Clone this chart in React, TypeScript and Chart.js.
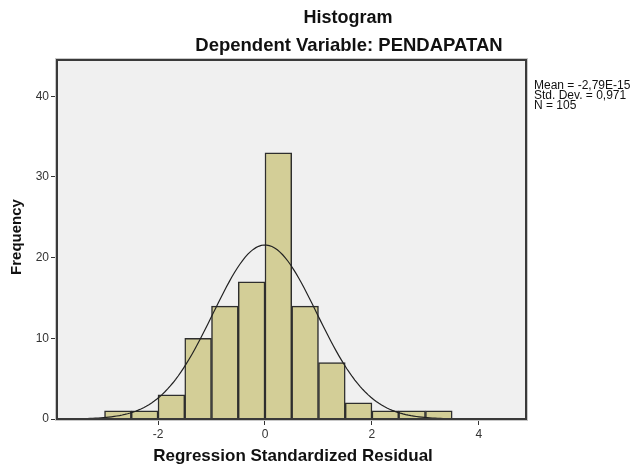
import React, { useEffect, useRef } from "react";
import { Chart, registerables } from "chart.js";

Chart.register(...registerables);

// Histogram data (bin centres, counts)
const BIN_CENTERS = [-2.75, -2.25, -1.75, -1.25, -0.75, -0.25, 0.25, 0.75, 1.25, 1.75, 2.25, 2.75, 3.25];
const COUNTS = [1, 1, 3, 10, 14, 17, 33, 14, 7, 2, 1, 1, 1];
const BIN_WIDTH = 0.5;

// Summary statistics shown in the legend
const MEAN = -2.79e-15;
const STD_DEV = 0.971;
const N = 105;
const STATS_LINES = ["Mean = -2,79E-15", "Std. Dev. = 0,971", "N = 105"];

const X_TICKS = [-2, 0, 2, 4];
const Y_TICKS = [0, 10, 20, 30, 40];
const X_MIN = -3.87;
const X_MAX = 4.88;
const Y_MAX = 44.5;

const TITLE = "Histogram";
const SUBTITLE = "Dependent Variable: PENDAPATAN";
const X_TITLE = "Regression Standardized Residual";
const Y_TITLE = "Frequency";

// Fitted normal curve scaled to the histogram (from the legend statistics)
const CURVE_STEP = 0.05;
const curvePoints: { x: number; y: number }[] = [];
for (let x = X_MIN; x <= X_MAX + 1e-9; x += CURVE_STEP) {
  const z = (x - MEAN) / STD_DEV;
  const y = (N * BIN_WIDTH) / (STD_DEV * Math.sqrt(2 * Math.PI)) * Math.exp(-0.5 * z * z);
  curvePoints.push({ x, y });
}

const FONT = "Arial, 'Liberation Sans', sans-serif";

const decorPlugin = {
  id: "decor",
  beforeDraw(chart: any) {
    const { ctx, chartArea: a } = chart;
    ctx.save();
    ctx.fillStyle = "#f0f0f0";
    ctx.fillRect(a.left, a.top, a.right - a.left, a.bottom - a.top);
    ctx.restore();
  },
  afterDraw(chart: any) {
    const { ctx, chartArea: a } = chart;
    ctx.save();
    // frame
    ctx.strokeStyle = "#c8c8c8";
    ctx.lineWidth = 1;
    ctx.strokeRect(a.left - 2.5, a.top - 1.5, a.right - a.left + 4, a.bottom - a.top + 3);
    ctx.strokeStyle = "#3a3a3a";
    ctx.lineWidth = 2;
    ctx.strokeRect(a.left - 1, a.top, a.right - a.left + 1, a.bottom - a.top);

    ctx.fillStyle = "#111";
    ctx.textBaseline = "middle";
    ctx.textAlign = "center";
    ctx.font = `bold 18px ${FONT}`;
    ctx.fillText(TITLE, 348, 18.5);
    ctx.font = `bold 18.5px ${FONT}`;
    ctx.fillText(SUBTITLE, 349, 46);

    ctx.font = `bold 17px ${FONT}`;
    ctx.fillText(X_TITLE, 293, 456);

    ctx.save();
    ctx.translate(17, 237);
    ctx.rotate(-Math.PI / 2);
    ctx.font = `bold 15px ${FONT}`;
    ctx.fillText(Y_TITLE, 0, 0);
    ctx.restore();

    ctx.textAlign = "left";
    ctx.font = `12px ${FONT}`;
    STATS_LINES.forEach((s, i) => ctx.fillText(s, 534, 86 + i * 10));
    ctx.restore();
  },
};

export default function App() {
  const ref = useRef<HTMLCanvasElement | null>(null);
  useEffect(() => {
    document.body.style.margin = "0";
    const chart = new Chart(ref.current as HTMLCanvasElement, {
      data: {
        datasets: [
          {
            type: "line",
            data: curvePoints,
            borderColor: "#222",
            borderWidth: 1.2,
            pointRadius: 0,
            fill: false,
            tension: 0,
            order: 0,
          } as any,
          {
            type: "bar",
            data: BIN_CENTERS.map((c, i) => ({ x: c, y: COUNTS[i] })),
            backgroundColor: "#d3ce97",
            borderColor: "#2e2e2e",
            borderWidth: 1.5,
            barPercentage: 1,
            categoryPercentage: 1,
            order: 1,
          } as any,
        ],
      },
      options: {
        animation: false,
        responsive: true,
        maintainAspectRatio: false,
        layout: { padding: { top: 60, right: 108, left: 0, bottom: 0 } },
        plugins: { legend: { display: false }, tooltip: { enabled: false }, title: { display: false } },
        scales: {
          x: {
            type: "linear",
            min: X_MIN,
            max: X_MAX,
            offset: false,
            afterBuildTicks: (s: any) => {
              s.ticks = X_TICKS.map((v) => ({ value: v }));
            },
            afterFit: (s: any) => {
              s.height = 47;
            },
            grid: { offset: false, drawOnChartArea: false, drawTicks: true, tickLength: 6, color: "#333" },
            border: { display: false },
            ticks: { color: "#333", font: { family: FONT, size: 12 }, padding: 2, maxRotation: 0 },
          },
          y: {
            type: "linear",
            min: 0,
            max: Y_MAX,
            afterBuildTicks: (s: any) => {
              s.ticks = Y_TICKS.map((v) => ({ value: v }));
            },
            afterFit: (s: any) => {
              s.width = 58;
            },
            grid: { drawOnChartArea: false, drawTicks: true, tickLength: 7, color: "#333" },
            border: { display: false },
            ticks: { color: "#333", font: { family: FONT, size: 12 }, padding: 2 },
          },
        },
      } as any,
      plugins: [decorPlugin],
    });
    return () => chart.destroy();
  }, []);
  return (
    <div style={{ position: "fixed", left: 0, top: 0, width: 634, height: 466, background: "#fff" }}>
      <canvas ref={ref} />
    </div>
  );
}
